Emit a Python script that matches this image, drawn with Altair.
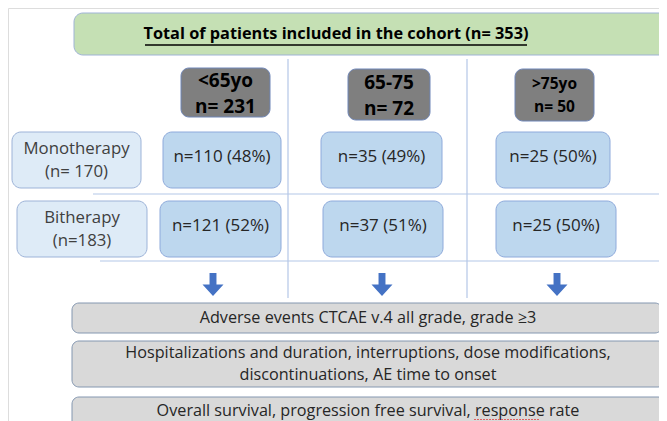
import altair as alt
import pandas as pd

# ---------------- data ----------------
title_text = "Total of patients included in the cohort (n= 353)"
age_groups = ["<65yo", "65-75", ">75yo"]
age_n = [231, 72, 50]
therapies = ["Monotherapy", "Bitherapy"]
therapy_n_labels = ["(n= 170)", "(n=183)"]
mono_n = [110, 35, 25]
mono_pct = [48, 49, 50]
bi_n = [121, 37, 25]
bi_pct = [52, 51, 50]
outcome_lines = [
    ["Adverse events CTCAE v.4 all grade, grade \u22653"],
    ["Hospitalizations and duration, interruptions, dose modifications,",
     "discontinuations, AE time to onset"],
    ["Overall survival, progression free survival, response rate"],
]

# ---------------- layout (pixel space of the diagram) ----------------
FONT = "Open Sans"
title_box = dict(x=74, x2=690, y=13, y2=55)
age_box_x = [(181, 270), (348, 430), (515, 594)]
age_box_y = [(68, 117), (69, 120), (69, 121)]
age_font = [19, 19, 15.5]
therapy_box_x = [(12, 141), (17, 147)]
row_y = [(132, 188), (201, 257)]
cell_x = [[(163, 281), (321, 442), (496, 610)],
          [(160, 281), (323, 443), (496, 616)]]
arrow_x = [213, 382, 557]
arrow_y = 284.5
bar_y = [(303, 333), (341, 387), (397, 440)]
bar_x = [(72, 662), (72, 665), (72, 665)]
grid_lines = [
    dict(x=93, x2=700, y=194, y2=194),
    dict(x=100, x2=700, y=261, y2=261),
    dict(x=288, x2=288, y=59, y2=298),
    dict(x=467, x2=467, y=59, y2=298),
]

X = alt.Scale(domain=[8, 659])
Y = alt.Scale(domain=[421, 8])


def rects(rows, fill, stroke, radius, sw=1):
    df = pd.DataFrame(rows)
    return alt.Chart(df).mark_rect(
        cornerRadius=radius, fill=fill, stroke=stroke, strokeWidth=sw, clip=False
    ).encode(
        x=alt.X("x:Q", scale=X, axis=None),
        x2="x2:Q",
        y=alt.Y("y:Q", scale=Y, axis=None),
        y2="y2:Q",
    )


def texts(rows, size, weight="normal", color="#262626"):
    df = pd.DataFrame(rows)
    return alt.Chart(df).mark_text(
        font=FONT, fontSize=size, fontWeight=weight, color=color,
        align="center", baseline="middle",
    ).encode(
        x=alt.X("x:Q", scale=X, axis=None),
        y=alt.Y("y:Q", scale=Y, axis=None),
        text="t:N",
    )


def hrule(rows, color, width, dash=None):
    kw = dict(color=color, strokeWidth=width)
    if dash:
        kw["strokeDash"] = dash
    return alt.Chart(pd.DataFrame(rows)).mark_rule(**kw).encode(
        x=alt.X("x:Q", scale=X, axis=None), x2="x2:Q",
        y=alt.Y("y:Q", scale=Y, axis=None),
    )


# grid lines
grid = alt.Chart(pd.DataFrame(grid_lines)).mark_rule(
    color="#b4c7e7", strokeWidth=1.2
).encode(
    x=alt.X("x:Q", scale=X, axis=None), x2="x2:Q",
    y=alt.Y("y:Q", scale=Y, axis=None), y2="y2:Q",
)

# title box
title_rect = rects([title_box], "#c5e0b4", "#9fb3d6", 9)
tcx = 336
title_txt = texts([dict(x=tcx, y=34, t=title_text)], 16.3, "bold", "#000000")
underline = hrule([dict(x=145, x2=527, y=45)], "#000000", 1.3)

# age boxes
age_rows = [dict(x=a[0], x2=a[1], y=b[0], y2=b[1]) for a, b in zip(age_box_x, age_box_y)]
age_rect = rects(age_rows, "#7f7f7f", "#6f86b8", 8)
age_txt_layers = []
for i, g in enumerate(age_groups):
    cx = (age_box_x[i][0] + age_box_x[i][1]) / 2
    cy = (age_box_y[i][0] + age_box_y[i][1]) / 2
    up, dn = (12, 14) if i < 2 else (11, 12)
    age_txt_layers.append(texts([
        dict(x=cx, y=cy - up, t=g),
        dict(x=cx, y=cy + dn, t=f"n= {age_n[i]}"),
    ], age_font[i], "bold", "#000000"))

# therapy label boxes
th_rows = [dict(x=therapy_box_x[r][0], x2=therapy_box_x[r][1], y=row_y[r][0], y2=row_y[r][1]) for r in range(2)]
th_rect = rects(th_rows, "#deebf7", "#9db3d8", 9)
th_txt_rows = []
for r in range(2):
    cx = (therapy_box_x[r][0] + therapy_box_x[r][1]) / 2
    cy = (row_y[r][0] + row_y[r][1]) / 2
    th_txt_rows.append(dict(x=cx, y=cy - 11, t=therapies[r]))
    th_txt_rows.append(dict(x=cx, y=cy + 12, t=therapy_n_labels[r]))
th_txt = texts(th_txt_rows, 16.8, "normal", "#404040")

# cells
cell_rows = []
cell_txt_rows = []
for r, (ns, ps) in enumerate([(mono_n, mono_pct), (bi_n, bi_pct)]):
    for c in range(3):
        x0, x1 = cell_x[r][c]
        y0, y1 = row_y[r]
        cell_rows.append(dict(x=x0, x2=x1, y=y0, y2=y1))
        cell_txt_rows.append(dict(x=(x0 + x1) / 2, y=(y0 + y1) / 2 - 3, t=f"n={ns[c]} ({ps[c]}%)"))
cell_rect = rects(cell_rows, "#bdd7ee", "#8eaadb", 9)
cell_txt = texts(cell_txt_rows, 17, "normal", "#262626")

# arrows
arrow_path = "M-0.33,-1.1L0.33,-1.1L0.33,0L1,0L0,1.1L-1,0L-0.33,0Z"
arrows = alt.Chart(pd.DataFrame(dict(x=arrow_x, y=[arrow_y] * 3))).mark_point(
    shape=arrow_path, filled=True, fill="#4472c4", size=441, opacity=1
).encode(
    x=alt.X("x:Q", scale=X, axis=None),
    y=alt.Y("y:Q", scale=Y, axis=None),
)

# outcome bars
bar_rows = [dict(x=bar_x[i][0], x2=bar_x[i][1], y=bar_y[i][0], y2=bar_y[i][1]) for i in range(3)]
bar_rect = rects(bar_rows, "#d9d9d9", "#8497b0", 7)
bar_txt_rows = []
for i, lines in enumerate(outcome_lines):
    cx = 368
    if i == 0:
        bar_txt_rows.append(dict(x=cx, y=(bar_y[i][0] + bar_y[i][1]) / 2, t=lines[0]))
    elif i == 1:
        cy = (bar_y[i][0] + bar_y[i][1]) / 2
        bar_txt_rows.append(dict(x=cx, y=cy - 11, t=lines[0]))
        bar_txt_rows.append(dict(x=cx, y=cy + 11, t=lines[1]))
    else:
        bar_txt_rows.append(dict(x=cx, y=bar_y[i][0] + 14, t=lines[0]))
bar_txt = texts(bar_txt_rows, 16.2, "normal", "#262626")

# spell-check squiggle under "response" (as in the source screenshot)
squiggle = hrule([dict(x=474, x2=540, y=419.5)], "#e06060", 1.2, [2, 1])

chart = alt.layer(
    grid, title_rect, title_txt, underline,
    age_rect, *age_txt_layers,
    th_rect, th_txt, cell_rect, cell_txt,
    arrows, bar_rect, bar_txt, squiggle,
).properties(
    width=651, height=413, padding=0,
    autosize=alt.AutoSizeParams(type="none"),
).configure_view(stroke=None).configure(background="white")

chart.save("out.html", embed_options={"renderer": "svg", "actions": False})
